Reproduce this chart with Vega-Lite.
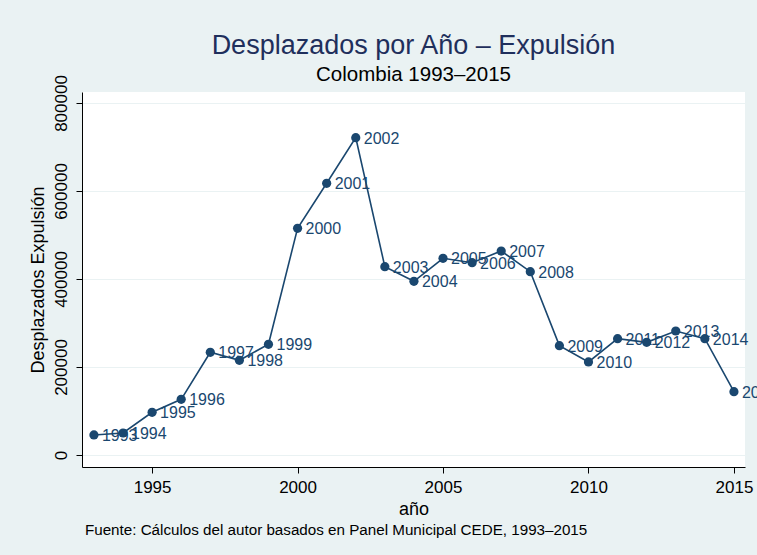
{
  "$schema": "https://vega.github.io/schema/vega-lite/v6.json",
  "width": 663,
  "height": 375,
  "autosize": {"type": "none"},
  "padding": {"left": 82, "top": 92, "right": 12, "bottom": 88},
  "background": "#eaf2f3",
  "title": {
    "text": "Desplazados por Año – Expulsión",
    "subtitle": "Colombia 1993–2015",
    "anchor": "middle",
    "font": "Liberation Sans, Arial",
    "fontSize": 27,
    "fontWeight": "normal",
    "color": "#1f2f5c",
    "subtitleFont": "Liberation Sans, Arial",
    "subtitleFontSize": 20.5,
    "subtitleColor": "#000000",
    "subtitlePadding": 5,
    "offset": -12
  },
  "config": {
    "view": {"fill": "#ffffff", "stroke": null},
    "axis": {
      "labelFont": "Liberation Sans, Arial",
      "titleFont": "Liberation Sans, Arial",
      "labelColor": "#000000",
      "titleColor": "#000000",
      "titleFontWeight": "normal",
      "domainColor": "#000000",
      "tickColor": "#000000",
      "gridColor": "#eaf2f3",
      "gridWidth": 1.2
    }
  },
  "layer": [
    {
      "data": {
        "values": [
          {"anio": 1993, "desplazados": 45500},
          {"anio": 1994, "desplazados": 50000},
          {"anio": 1995, "desplazados": 97000},
          {"anio": 1996, "desplazados": 126600},
          {"anio": 1997, "desplazados": 233400},
          {"anio": 1998, "desplazados": 215200},
          {"anio": 1999, "desplazados": 251600},
          {"anio": 2000, "desplazados": 515200},
          {"anio": 2001, "desplazados": 617500},
          {"anio": 2002, "desplazados": 721200},
          {"anio": 2003, "desplazados": 428000},
          {"anio": 2004, "desplazados": 394700},
          {"anio": 2005, "desplazados": 447000},
          {"anio": 2006, "desplazados": 437100},
          {"anio": 2007, "desplazados": 463600},
          {"anio": 2008, "desplazados": 416700},
          {"anio": 2009, "desplazados": 248500},
          {"anio": 2010, "desplazados": 211400},
          {"anio": 2011, "desplazados": 264400},
          {"anio": 2012, "desplazados": 256100},
          {"anio": 2013, "desplazados": 281800},
          {"anio": 2014, "desplazados": 264400},
          {"anio": 2015, "desplazados": 143900}
        ]
      },
      "encoding": {
        "x": {
          "field": "anio",
          "type": "quantitative",
          "scale": {"domain": [1992.59, 2015.38], "nice": false, "zero": false},
          "axis": {
            "title": "año",
            "values": [1995, 2000, 2005, 2010, 2015],
            "format": "d",
            "grid": false,
            "labelFontSize": 17,
            "titleFontSize": 18,
            "tickSize": 6,
            "labelPadding": 6,
            "titlePadding": 5
          }
        },
        "y": {
          "field": "desplazados",
          "type": "quantitative",
          "scale": {"domain": [-27270, 825000], "nice": false, "zero": false},
          "axis": {
            "title": "Desplazados Expulsión",
            "values": [0, 200000, 400000, 600000, 800000],
            "format": "d",
            "grid": true,
            "labelAngle": -90,
            "labelAlign": "center",
            "labelBaseline": "bottom",
            "labelFontSize": 17,
            "titleFontSize": 18,
            "tickSize": 6,
            "labelPadding": 6,
            "titlePadding": 5
          }
        }
      },
      "layer": [
        {"mark": {"type": "line", "color": "#1a476f", "strokeWidth": 1.6}},
        {"mark": {"type": "point", "filled": true, "opacity": 1, "color": "#1a476f", "size": 85}},
        {
          "mark": {
            "type": "text",
            "align": "left",
            "baseline": "middle",
            "dx": 8,
            "dy": 1,
            "clip": false,
            "color": "#1a476f",
            "font": "Liberation Sans, Arial",
            "fontSize": 16
          },
          "encoding": {"text": {"field": "anio", "type": "quantitative", "format": "d"}}
        }
      ]
    },
    {
      "data": {"values": [{"nota": "Fuente: Cálculos del autor basados en Panel Municipal CEDE, 1993–2015", "x": 1992.69, "y": -171500}]},
      "mark": {
        "type": "text",
        "align": "left",
        "baseline": "middle",
        "clip": false,
        "color": "#000000",
        "font": "Liberation Sans, Arial",
        "fontSize": 15.2
      },
      "encoding": {
        "x": {"field": "x", "type": "quantitative"},
        "y": {"field": "y", "type": "quantitative"},
        "text": {"field": "nota"}
      }
    }
  ]
}
